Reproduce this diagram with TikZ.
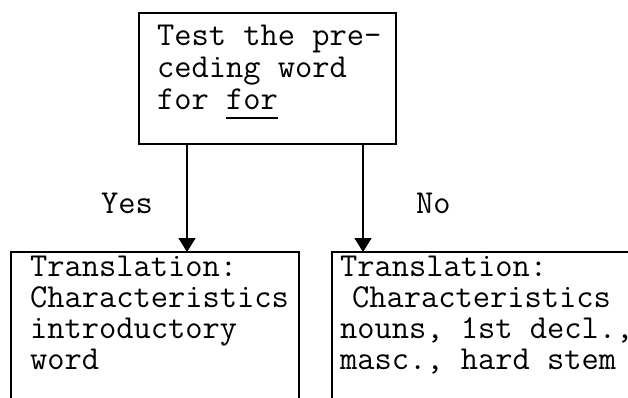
\documentclass[tikz,border=0pt]{standalone}
\usepackage{fontspec}
\usetikzlibrary{arrows.meta,calc}
\newcommand{\myul}[1]{\setbox0\hbox{#1}\rlap{\rule[-9pt]{\wd0}{1.8pt}}\box0}
\tikzset{
  box/.style={draw, line width=1.6pt, rectangle, inner sep=0pt, outer sep=0pt, anchor=north west},
  txt/.style={anchor=base west, inner sep=0pt, outer sep=0pt, font=\ttfamily\fontsize{33.5}{32}\selectfont},
  arr/.style={line width=1.6pt, -{Triangle[width=17pt,length=14pt]}}
}
\begin{document}
\begin{tikzpicture}[x=1pt,y=-1pt]
\useasboundingbox (0,0) rectangle (628,398);
% boxes
\node[box, minimum width=257pt, minimum height=131pt] (top) at (139,13) {};
\node[box, minimum width=288pt, minimum height=170pt] (left) at (11,252) {};
\node[box, minimum width=340pt, minimum height=170pt] (right) at (332,252) {};
% top text
\node[txt] (t1) at (157,46) {Test the pre-};
\node[txt] (t2) at (157,78) {ceding word};
\node[txt] (t3) at (157,110) {for \myul{for}};
% left text
\node[txt] (l1) at (30,276) {Translation:};
\node[txt] (l2) at (30,307) {Characteristics};
\node[txt] (l3) at (30,338) {introductory};
\node[txt] (l4) at (30,369) {word};
% right text
\node[txt] (r1) at (340,276) {Translation:};
\node[txt] (r2) at (352,307) {Characteristics};
\node[txt] (r3) at (340,338) {nouns, 1st decl.,};
\node[txt] (r4) at (340,369) {masc., hard stem};
% labels
\node[txt] (yes) at (101,213) {Yes};
\node[txt] (no) at (416,213) {No};
% connectors
\coordinate (a1) at ($(top.south west)+(48,0)$);
\coordinate (a2) at ($(top.south west)+(224,0)$);
\draw[arr] (a1) -- (a1 |- left.north);
\draw[arr] (a2) -- (a2 |- right.north);
\end{tikzpicture}
\end{document}
